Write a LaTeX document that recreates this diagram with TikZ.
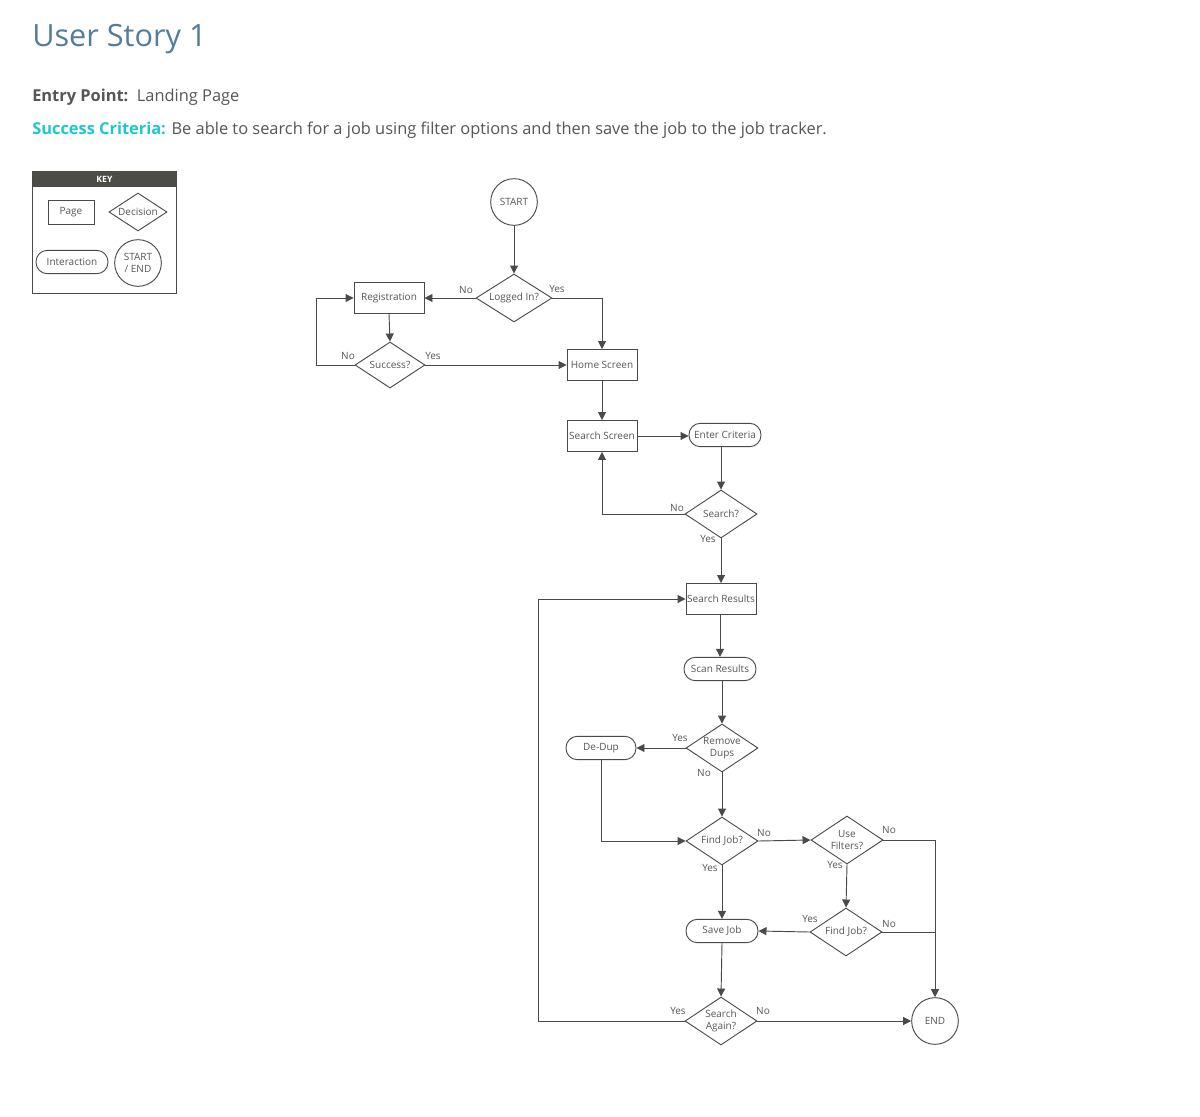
\documentclass[tikz,border=0pt]{standalone}
\usepackage{fontspec}
\setmainfont{Open Sans}
\usetikzlibrary{shapes.geometric,arrows.meta,calc}
\definecolor{linec}{HTML}{4A4A48}
\definecolor{txtc}{HTML}{555555}
\definecolor{titlec}{HTML}{527C9C}
\definecolor{cyanc}{HTML}{1EC8D0}
\definecolor{keyhead}{HTML}{4D4D47}
\begin{document}
\begin{tikzpicture}[x=0.75pt,y=-0.75pt,
  base/.style={draw=linec, line width=0.7pt, text=txtc, font=\fontsize{7.5}{9}\selectfont, inner sep=0pt, align=center},
  pagebox/.style={base, rectangle, minimum width=52.5pt, minimum height=23.25pt},
  interact/.style={base, rectangle, rounded corners=8.5pt, minimum width=54pt, minimum height=17.5pt},
  decision/.style={base, diamond, aspect=1.5, minimum width=54pt, minimum height=36pt},
  terminal/.style={base, circle, minimum size=35pt},
  arr/.style={draw=linec, line width=0.7pt, -{Triangle[length=6pt,width=6pt]}},
  ln/.style={draw=linec, line width=0.7pt},
  lbl/.style={text=txtc, font=\fontsize{7.5}{9}\selectfont, inner sep=0pt},
  hdr/.style={text=txtc, font=\fontsize{12.3}{15}\selectfont, inner sep=0pt, anchor=base west}
]
\useasboundingbox (0,0) rectangle (1200,1117);

% header
\node[anchor=base west, inner sep=0pt, text=titlec, font=\fontsize{23}{27}\selectfont] (title) at (32,46) {User Story 1};
\node[hdr] (entry) at (32,101) {\textbf{Entry Point:}\ \ Landing Page};
\node[hdr] (crit) at (32,134) {\textcolor{cyanc}{\textbf{Success Criteria:}} Be able to search for a job using filter options and then save the job to the job tracker.};

% key
\node[draw=linec, line width=0.7pt, minimum width=108pt, minimum height=91.5pt, inner sep=0pt, anchor=north west] (keybox) at (32,171) {};
\node[fill=keyhead, draw=linec, line width=0.7pt, minimum width=108pt, minimum height=11.25pt, inner sep=0pt, anchor=north west, text=white, font=\fontsize{6.5}{7}\selectfont\bfseries] (keyhdr) at (32,171) {KEY};
\node[base, rectangle, minimum width=34.5pt, minimum height=18pt] (kpage) at (71,212) {Page};
\node[base, diamond, aspect=1.5, minimum width=43.5pt, minimum height=28.5pt] (kdec) at (138,212) {Decision};
\node[interact] (kint) at (72,262) {Interaction};
\node[terminal] (kterm) at (138,263) {START\\/ END};

% flow nodes
\node[terminal] (start) at (514,202) {START};
\node[decision, minimum width=57pt] (login) at (514,298) {Logged In?};
\node[pagebox] (reg) at (389,298) {Registration};
\node[decision, minimum width=52.5pt, minimum height=34.5pt] (succ) at (390,365) {Success?};
\node[pagebox] (home) at (602,365) {Home Screen};
\node[pagebox] (ss) at (602,436) {Search Screen};
\node[interact] (enter) at (725,435) {Enter Criteria};
\node[decision] (searchq) at (721,514) {Search?};
\node[pagebox] (results) at (721,599) {Search Results};
\node[interact] (scan) at (720,669) {Scan Results};
\node[decision] (remove) at (722,748) {Remove\\Dups};
\node[interact, minimum width=52.5pt] (dedup) at (601,748) {De-Dup};
\node[decision] (find1) at (722,841) {Find Job?};
\node[decision] (filters) at (847,840) {Use\\Filters?};
\node[decision] (find2) at (846,932) {Find Job?};
\node[interact] (save) at (722,931) {Save Job};
\node[decision] (again) at (721,1021) {Search\\Again?};
\node[terminal] (end) at (935,1021) {END};

\coordinate (lp) at (316,298);
\coordinate (lb) at (538,1021);

% connectors
\draw[arr] (start.south) -- (login.north);
\draw[arr] (login.west) -- (reg.east);
\draw[arr] (login.east) -| (home.north);
\draw[arr] (reg.south) -- (succ.north);
\draw[arr] (succ.east) -- (home.west);
\draw[arr] (succ.west) -| (lp) -- (reg.west);
\draw[arr] (home.south) -- (ss.north);
\draw[arr] (ss.east) -- (ss.east -| enter.west);
\draw[arr] (searchq.north |- enter.south) -- (searchq.north);
\draw[arr] (searchq.west) -| (ss.south);
\draw[arr] (searchq.south) -- (results.north);
\draw[arr] (results.south -| scan.north) -- (scan.north);
\draw[arr] (remove.north |- scan.south) -- (remove.north);
\draw[arr] (remove.west) -- (dedup.east);
\draw[arr] (remove.south) -- (find1.north);
\draw[arr] (dedup.south) |- (find1.west);
\draw[arr] (find1.east) -- (filters.west);
\draw[arr] (filters.east) -| (end.north);
\draw[arr] (filters.south) -- (find2.north);
\draw[ln] (find2.east) -- (end.north |- find2.east);
\draw[arr] (find2.west) -- (save.east);
\draw[arr] (find1.south) -- (save.north);
\draw[arr] (save.south) -- (again.north);
\draw[arr] (again.east) -- (end.west);
\draw[arr] (again.west) -- (lb) |- (results.west);

% labels
\node[lbl] (l1) at (466,290) {No};
\node[lbl] (l2) at (557,289) {Yes};
\node[lbl] (l3) at (348,356) {No};
\node[lbl] (l4) at (433,356) {Yes};
\node[lbl] (l5) at (677,508) {No};
\node[lbl] (l6) at (708,539) {Yes};
\node[lbl] (l7) at (680,738) {Yes};
\node[lbl] (l8) at (704,773) {No};
\node[lbl] (l9) at (764,833) {No};
\node[lbl] (l10) at (889,830) {No};
\node[lbl] (l11) at (835,865) {Yes};
\node[lbl] (l12) at (710,868) {Yes};
\node[lbl] (l13) at (810,919) {Yes};
\node[lbl] (l14) at (889,924) {No};
\node[lbl] (l15) at (678,1011) {Yes};
\node[lbl] (l16) at (763,1011) {No};
\end{tikzpicture}
\end{document}
